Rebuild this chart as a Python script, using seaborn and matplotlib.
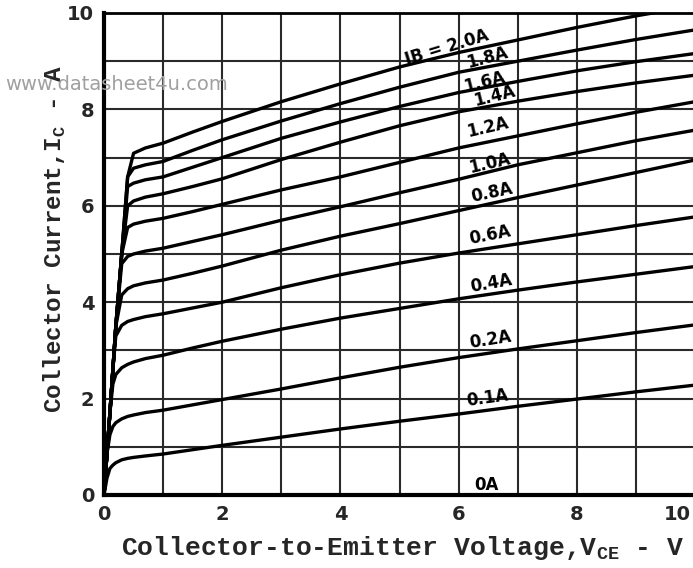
import pandas as pd
import seaborn as sns
import matplotlib.pyplot as plt
from matplotlib.ticker import MultipleLocator

# collector-emitter voltage (V), shared by all curves
vce = [0, 0.05, 0.1, 0.15, 0.2, 0.3, 0.4, 0.5, 0.7, 1, 1.5, 2, 3, 4, 5, 6, 7, 8, 9, 10]

# collector current (A) for each base current
ic_0a = [0, 0, 0, 0, 0, 0, 0, 0, 0, 0, 0, 0, 0, 0, 0, 0, 0, 0, 0, 0]
ic_01a = [0, 0.35, 0.55, 0.62, 0.67, 0.73, 0.76, 0.78, 0.81, 0.85, 0.94, 1.03, 1.20, 1.37, 1.53, 1.68, 1.84, 1.99, 2.14, 2.28]
ic_02a = [0, 0.85, 1.25, 1.42, 1.50, 1.58, 1.63, 1.66, 1.71, 1.76, 1.87, 1.98, 2.20, 2.43, 2.65, 2.85, 3.03, 3.20, 3.37, 3.53]
ic_04a = [0, 0.85, 1.70, 2.30, 2.50, 2.64, 2.71, 2.76, 2.83, 2.90, 3.05, 3.19, 3.44, 3.67, 3.87, 4.07, 4.25, 4.42, 4.58, 4.74]
ic_06a = [0, 0.85, 1.70, 2.60, 3.30, 3.52, 3.60, 3.64, 3.70, 3.76, 3.88, 4.00, 4.30, 4.57, 4.81, 5.02, 5.21, 5.40, 5.59, 5.77]
ic_08a = [0, 0.85, 1.70, 2.60, 3.50, 4.15, 4.28, 4.34, 4.40, 4.46, 4.60, 4.75, 5.08, 5.37, 5.63, 5.90, 6.17, 6.43, 6.69, 6.95]
ic_10a = [0, 0.85, 1.70, 2.60, 3.50, 4.80, 4.95, 5.00, 5.06, 5.12, 5.26, 5.40, 5.70, 5.98, 6.27, 6.55, 6.85, 7.10, 7.35, 7.57]
ic_12a = [0, 0.85, 1.70, 2.60, 3.50, 5.00, 5.55, 5.62, 5.68, 5.74, 5.88, 6.03, 6.33, 6.60, 6.90, 7.20, 7.45, 7.70, 7.94, 8.16]
ic_14a = [0, 0.85, 1.70, 2.60, 3.50, 5.00, 6.00, 6.10, 6.18, 6.25, 6.40, 6.56, 6.96, 7.32, 7.66, 7.95, 8.17, 8.37, 8.55, 8.71]
ic_16a = [0, 0.85, 1.70, 2.60, 3.50, 5.00, 6.40, 6.47, 6.54, 6.60, 6.80, 7.00, 7.40, 7.74, 8.06, 8.35, 8.58, 8.80, 8.99, 9.16]
ic_18a = [0, 0.85, 1.70, 2.60, 3.50, 5.00, 6.60, 6.78, 6.85, 6.92, 7.15, 7.37, 7.76, 8.12, 8.46, 8.77, 9.00, 9.23, 9.45, 9.65]
ic_20a = [0, 0.85, 1.70, 2.60, 3.50, 5.00, 6.60, 7.09, 7.20, 7.30, 7.53, 7.75, 8.16, 8.53, 8.88, 9.18, 9.44, 9.70, 9.94, 10.15]

ib_names = ['0A', '0.1A', '0.2A', '0.4A', '0.6A', '0.8A', '1.0A', '1.2A', '1.4A', '1.6A', '1.8A', '2.0A']
ic_curves = [ic_0a, ic_01a, ic_02a, ic_04a, ic_06a, ic_08a, ic_10a, ic_12a, ic_14a, ic_16a, ic_18a, ic_20a]

# curve labels
label_text = ['IB = 2.0A', '1.8A', '1.6A', '1.4A', '1.2A', '1.0A', '0.8A', '0.6A', '0.4A', '0.2A', '0.1A', '0A']
label_x = [5.81, 6.49, 6.43, 6.60, 6.50, 6.52, 6.57, 6.54, 6.55, 6.54, 6.49, 6.47]
label_y = [9.29, 9.07, 8.57, 8.28, 7.63, 6.89, 6.27, 5.39, 4.38, 3.22, 2.01, 0.20]
label_rot = [17, 15, 14, 14, 13, 13, 12, 11, 10, 9, 8, 0]

xtick_vals = [0, 2, 4, 6, 8, 10]
ytick_vals = [0, 2, 4, 6, 8, 10]

rows = []
for name, ic in zip(ib_names, ic_curves):
    for v, i in zip(vce, ic):
        rows.append({'IB': name, 'VCE': v, 'IC': i})
df = pd.DataFrame(rows)

sns.set_style('white')
plt.rcParams['font.family'] = ['DejaVu Sans']

fig = plt.figure(figsize=(6.93, 5.68), dpi=100)
ax = fig.add_axes([104 / 693, 73 / 568, 591 / 693, 482 / 568])

sns.lineplot(data=df, x='VCE', y='IC', units='IB', estimator=None, sort=False,
             color='black', linewidth=2.4, legend=False, ax=ax, zorder=3)

ax.set_xlim(0, 10)
ax.set_ylim(0, 10)
ax.xaxis.set_minor_locator(MultipleLocator(1))
ax.yaxis.set_minor_locator(MultipleLocator(1))
ax.set_axisbelow(True)
ax.grid(which='both', color='#2a2a2a', linewidth=1.5)
ax.tick_params(which='both', length=0, pad=7)

# the last x tick sits on the figure edge, so its label is drawn separately
ax.set_xticks(xtick_vals)
ax.set_xticklabels([str(t) for t in xtick_vals[:-1]] + [''], fontsize=14, fontweight='bold')
ax.annotate(str(xtick_vals[-1]), xy=(xtick_vals[-1], 0), xycoords='data',
            xytext=(-3, -7), textcoords='offset points', ha='right', va='top',
            fontsize=14, fontweight='bold', annotation_clip=False)
ax.set_yticks(ytick_vals)
ax.set_yticklabels([str(t) for t in ytick_vals], fontsize=14, fontweight='bold')

for s in ['left', 'bottom']:
    ax.spines[s].set_linewidth(3)
    ax.spines[s].set_color('black')
ax.spines['top'].set_linewidth(2)
ax.spines['top'].set_color('black')
ax.spines['right'].set_visible(False)

ax.set_xlabel(r'Collector-to-Emitter Voltage,V$_{\mathregular{CE}}$ - V',
              fontfamily='Liberation Mono', fontweight='bold', fontsize=19)
ax.xaxis.set_label_coords(0.506, -0.11)
ax.xaxis.label.set_va('center')
ax.set_ylabel(r'Collector Current,I$_{\mathregular{C}}$ - A',
              fontfamily='Liberation Mono', fontweight='bold', fontsize=17.5)
ax.yaxis.set_label_coords(-0.083, 0.531)
ax.yaxis.label.set_va('center')

for t, x, y, r in zip(label_text, label_x, label_y, label_rot):
    ax.text(x, y, t, rotation=r, rotation_mode='anchor', ha='center', va='center',
            fontsize=12, fontweight='bold', color='black', zorder=4)

fig.text(5 / 693, 1 - 84 / 568, 'www.datasheet4u.com', ha='left', va='center',
         fontsize=14, color='#a0a0a0', zorder=10)

fig.savefig('out.png', dpi=100)
